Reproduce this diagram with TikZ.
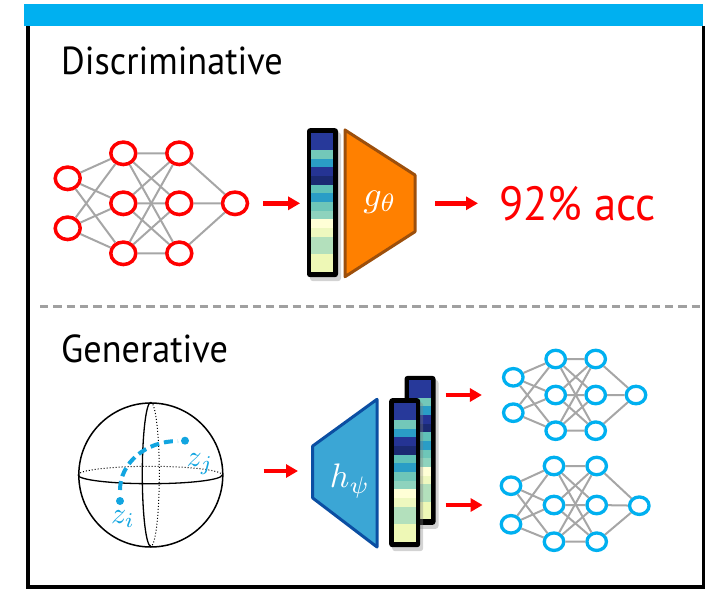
\documentclass[tikz,border=0pt]{standalone}
\usepackage{fontspec}
\setmainfont{PT Sans}[FakeStretch=0.93]
\usetikzlibrary{shapes.geometric,shadows,arrows.meta}
\definecolor{topblue}{HTML}{00B0F0}
\definecolor{netblue}{HTML}{00B0F0}
\definecolor{zblue}{HTML}{12A5E0}
\definecolor{edgegray}{HTML}{A6A6A6}
\definecolor{sepgray}{HTML}{A0A0A0}
\definecolor{gfill}{HTML}{FF8000}
\definecolor{gline}{HTML}{9C4F0C}
\definecolor{hfill}{HTML}{3BA6D5}
\definecolor{hline}{HTML}{0B4EA2}
\definecolor{cA}{HTML}{27399A}
\definecolor{cB}{HTML}{73C8B9}
\definecolor{cC}{HTML}{2A9DC6}
\definecolor{cD}{HTML}{253494}
\definecolor{cE}{HTML}{1B2A72}
\definecolor{cF}{HTML}{5FC1B8}
\definecolor{cG}{HTML}{6EC6B8}
\definecolor{cH}{HTML}{8ED3BD}
\definecolor{cI}{HTML}{FFFFD6}
\definecolor{cJ}{HTML}{EEF8BF}
\definecolor{cK}{HTML}{B3E0BC}
\definecolor{cL}{HTML}{EEF8B6}
\def\cells{cA,cA,cB,cC,cD,cE,cF,cC,cG,cH,cI,cJ,cK,cK,cL,cL}

\begin{document}
\begin{tikzpicture}[x=1pt,y=-1pt]
	\tikzstyle{rnode}=[ellipse,draw=red,line width=3.5pt,fill=white,inner sep=0pt,minimum width=25pt,minimum height=22.5pt]
	\tikzstyle{bnode}=[ellipse,draw=netblue,line width=3.3pt,fill=white,inner sep=0pt,minimum width=19.5pt,minimum height=17.5pt]
	\tikzstyle{edge}=[draw=edgegray,line width=2pt]
	\tikzstyle{redarrow}=[draw=red,line width=4.5pt,-{Triangle[length=12pt,width=13pt]}]
	\tikzstyle{vecbar}=[rectangle,fill=black,rounded corners=3pt,inner sep=0pt,minimum width=31pt,minimum height=149pt,drop shadow={shadow xshift=3pt,shadow yshift=-4pt,opacity=0.35}]
	\tikzstyle{title}=[anchor=base west,inner sep=0pt,font=\fontsize{39}{39}\selectfont]
	\useasboundingbox (0,0) rectangle (716,590);
	% frame
	\draw[line width=3.5pt] (28,26) -- (28,587) -- (703.5,587) -- (703.5,26);
	\fill[topblue] (24,4) rectangle (703.3,26);
	\draw[sepgray,line width=3pt,dash pattern=on 8.3pt off 5pt] (40,306) -- (703,306);
	\node[title] (disc) at (61,74) {Discriminative};
	\node[title] (gen) at (61,362.7) {Generative};
	% discriminative net
	\node[rnode] (d1) at (67.7,178.3) {};
	\node[rnode] (d2) at (67.7,228.3) {};
	\node[rnode] (d3) at (123.3,153.3) {};
	\node[rnode] (d4) at (123.3,203.3) {};
	\node[rnode] (d5) at (123.3,253.3) {};
	\node[rnode] (d6) at (179.3,153.3) {};
	\node[rnode] (d7) at (179.3,203.3) {};
	\node[rnode] (d8) at (179.3,253.3) {};
	\node[rnode] (d9) at (235,203.3) {};
	\draw[edge] (d1) -- (d3) (d1) -- (d4) (d1) -- (d5);
	\draw[edge] (d2) -- (d3) (d2) -- (d4) (d2) -- (d5);
	\draw[edge] (d3) -- (d6) (d3) -- (d7) (d3) -- (d8);
	\draw[edge] (d4) -- (d6) (d4) -- (d7) (d4) -- (d8);
	\draw[edge] (d5) -- (d6) (d5) -- (d7) (d5) -- (d8);
	\draw[edge] (d6) -- (d9) (d7) -- (d9) (d8) -- (d9);
	% feature vector and classifier
	\node[vecbar] (v1) at (322.5,202.7) {};
	\foreach \c [count=\i from 0] in \cells
		\fill[\c] ([xshift=4.5pt,yshift=-4.5pt-\i*8.69pt]v1.north west) rectangle ++(22,8.69);
	\draw[fill=gfill,draw=gline,line width=3pt,line join=round] (345,130) -- (415,175) -- (415,231.7) -- (345,276.7) -- cycle;
	\node[text=white,scale=3.6] (g) at (380,202) {$g_\theta$};
	\coordinate (gout) at (415,203.3);
	\node[text=red,anchor=base west,inner sep=0pt] (acc) at (499,220) {\fontsize{48}{48}\selectfont 92\% acc};
	\draw[redarrow,shorten <=14pt,shorten >=6.7pt] (d9) -- (d9 -| v1.west);
	\draw[redarrow,shorten <=20pt,shorten >=21pt] (gout) -- (gout -| acc.west);
	% latent sphere
	\node[circle,draw,line width=1.5pt,minimum size=144pt,inner sep=0pt] (s) at (150.8,475) {};
	\draw[line width=1.3pt] (s.west) arc[start angle=180,end angle=0,x radius=72,y radius=8.7];
	\draw[line width=1pt,dotted] (s.west) arc[start angle=180,end angle=360,x radius=72,y radius=8.7];
	\draw[line width=1.3pt] (s.north) arc[start angle=270,end angle=90,x radius=8.5,y radius=72];
	\draw[line width=1pt,dotted] (s.north) arc[start angle=270,end angle=450,x radius=8.5,y radius=72];
	\node[circle,fill=zblue,inner sep=0pt,minimum size=8pt] (zi) at (120,501) {};
	\node[circle,fill=zblue,inner sep=0pt,minimum size=8pt] (zj) at (185,440.7) {};
	\draw[zblue,line width=4pt,dash pattern=on 9pt off 5pt] (zi) ++(0,-11) arc[start angle=180,end angle=270,x radius=58,y radius=49];
	\node[text=zblue,scale=3] (zil) at (123,519) {$z_i$};
	\node[text=zblue,scale=3] (zjl) at (200,464) {$z_j$};
	% generator
	\draw[fill=hfill,draw=hline,line width=3pt,line join=round] (312.7,446) -- (377,399.3) -- (377,547) -- (312.7,498) -- cycle;
	\node[text=white,scale=3.4] (h) at (350,481) {$h_\psi$};
	\coordinate (hin) at (312.7,471);
	\draw[redarrow,shorten <=40pt,shorten >=14.7pt] (s.east |- hin) -- (hin);
	\node[vecbar] (v3) at (420,450.4) {};
	\foreach \c [count=\i from 0] in \cells
		\fill[\c] ([xshift=4.5pt,yshift=-4.5pt-\i*8.69pt]v3.north west) rectangle ++(22,8.69);
	\node[vecbar] (v2) at (404.7,472.7) {};
	\foreach \c [count=\i from 0] in \cells
		\fill[\c] ([xshift=4.5pt,yshift=-4.5pt-\i*8.69pt]v2.north west) rectangle ++(22,8.69);
	% generated nets
	\node[bnode] (u1) at (513.3,377.3) {};
	\node[bnode] (u2) at (513.3,412.7) {};
	\node[bnode] (u3) at (555.7,359) {};
	\node[bnode] (u4) at (555.7,395) {};
	\node[bnode] (u5) at (555.7,430.7) {};
	\node[bnode] (u6) at (595.7,359) {};
	\node[bnode] (u7) at (595.7,395) {};
	\node[bnode] (u8) at (595.7,430.7) {};
	\node[bnode] (u9) at (636,395) {};
	\draw[edge] (u1) -- (u3) (u1) -- (u4) (u1) -- (u5);
	\draw[edge] (u2) -- (u3) (u2) -- (u4) (u2) -- (u5);
	\draw[edge] (u3) -- (u6) (u3) -- (u7) (u3) -- (u8);
	\draw[edge] (u4) -- (u6) (u4) -- (u7) (u4) -- (u8);
	\draw[edge] (u5) -- (u6) (u5) -- (u7) (u5) -- (u8);
	\draw[edge] (u6) -- (u9) (u7) -- (u9) (u8) -- (u9);
	\node[bnode] (l1) at (511,485.7) {};
	\node[bnode] (l2) at (511,524.3) {};
	\node[bnode] (l3) at (554,466) {};
	\node[bnode] (l4) at (554,505) {};
	\node[bnode] (l5) at (554,541.7) {};
	\node[bnode] (l6) at (596.7,466) {};
	\node[bnode] (l7) at (596.7,505) {};
	\node[bnode] (l8) at (596.7,541.7) {};
	\node[bnode] (l9) at (639.3,505.7) {};
	\draw[edge] (l1) -- (l3) (l1) -- (l4) (l1) -- (l5);
	\draw[edge] (l2) -- (l3) (l2) -- (l4) (l2) -- (l5);
	\draw[edge] (l3) -- (l6) (l3) -- (l7) (l3) -- (l8);
	\draw[edge] (l4) -- (l6) (l4) -- (l7) (l4) -- (l8);
	\draw[edge] (l5) -- (l6) (l5) -- (l7) (l5) -- (l8);
	\draw[edge] (l6) -- (l9) (l7) -- (l9) (l8) -- (l9);
	\draw[redarrow,shorten <=10pt,shorten >=20pt] (v3.east |- u4) -- (u4 -| u1.west);
	\draw[redarrow,shorten <=10pt,shorten >=17pt] (v3.east |- l4) -- (l4 -| l1.west);
\end{tikzpicture}
\end{document}
